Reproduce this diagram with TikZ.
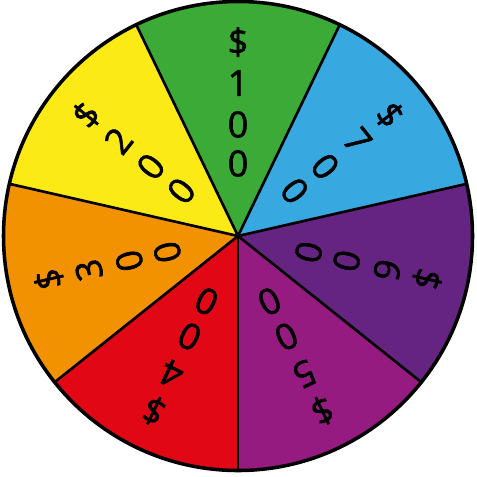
\documentclass[tikz,border=0pt]{standalone}
\usepackage{fontspec}
\setmainfont{Open Sans}[FakeBold=1.6]
\definecolor{wheelgreen}{HTML}{3CAA36}
\definecolor{wheelblue}{HTML}{37A9E0}
\definecolor{wheelviolet}{HTML}{662482}
\definecolor{wheelmagenta}{HTML}{951B80}
\definecolor{wheelred}{HTML}{E20714}
\definecolor{wheelorange}{HTML}{F29200}
\definecolor{wheelyellow}{HTML}{FCEA17}
\tikzset{
    wheelspoke/.style={
        draw=black,
        line width=1.5pt
    },
    wheelrim/.style={
        draw=black,
        line width=2pt
    },
    wheelchar/.style={
        inner sep=0pt,
        font=\fontsize{20.5}{20.5}\selectfont
    }
}
\begin{document}
\begin{tikzpicture}
    \useasboundingbox (-4.76,-4.80) rectangle (4.78,4.72);
    % sectors
    \foreach \mid/\col in {90/wheelgreen, 38.571/wheelblue, -12.857/wheelviolet,
        -64.286/wheelmagenta, -115.714/wheelred, -167.143/wheelorange,
        141.429/wheelyellow}
        \fill[\col] (0,0) -- (\mid-25.714:4.69)
            arc[start angle=\mid-25.714, end angle=\mid+25.714, radius=4.69] -- cycle;
    \foreach \a in {64.286, 12.857, -38.571, -90, -141.429, 167.143, 115.714}
        \draw[wheelspoke] (0,0) -- (\a:4.69);
    \draw[wheelrim] (0,0) circle (4.69);
    % prizes, read from the rim inward
    \foreach \mid/\d [count=\i] in {90/1, 38.571/7, -12.857/6, -64.286/5,
        -115.714/4, -167.143/3, 141.429/2} {
        \node[wheelchar, rotate=\mid-90] (dollar\i) at (\mid:3.88) {\$};
        \node[wheelchar, rotate=\mid-90] (digit\i) at (\mid:3.06) {\d};
        \node[wheelchar, rotate=\mid-90] (zeroa\i) at (\mid:2.23) {0};
        \node[wheelchar, rotate=\mid-90] (zerob\i) at (\mid:1.45) {0};
    }
\end{tikzpicture}
\end{document}
